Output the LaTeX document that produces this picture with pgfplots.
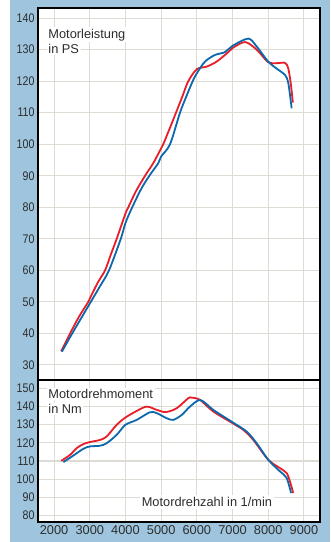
\documentclass[border=0pt]{standalone}
\usepackage{pgfplots}
\pgfplotsset{compat=1.18}
\usepackage{fontspec}
\setmainfont{Liberation Sans}
\newfontfamily\condfont{Liberation Sans}[FakeStretch=0.85]
\definecolor{bgblue}{RGB}{158,197,221}
\definecolor{gridgray}{RGB}{222,219,212}
\definecolor{cred}{RGB}{232,30,40}
\definecolor{cblue}{RGB}{12,104,172}
\definecolor{txt}{RGB}{45,45,45}

\pgfplotstableread{
x y
2200 34.3
2450 40
2700 45.3
2960 50
3000 51
3220 56
3430 60
3590 65
3755 70
4000 78
4080 80
4300 85.2
4550 90
4780 94
5000 98.7
5060 100
5240 105
5416 110
5600 115.3
5761 120
6000 123.8
6275 124.6
6555 126.2
6880 129.2
7000 130.5
7350 132.4
7675 130
8000 126
8235 125.7
8470 125.8
8560 124.1
8630 119.4
8690 113.2
}\powred

\pgfplotstableread{
x y
2220 34.2
2510 40
3030 50
3290 55
3540 60
3870 70
4000 75
4190 80
4450 86
4670 90
4920 94
5000 96.1
5250 100
5528 110
5700 115
5884 120
6000 122.5
6228 126.2
6508 128.3
6788 129.2
7000 131.2
7440 133.5
7675 131
8000 126.2
8281 123.6
8468 122
8562 119.4
8656 111.4
}\powblue

\pgfplotstableread{
x y
2200 110.1
2450 113.4
2635 117.1
2820 119.3
3000 120.4
3290 121.6
3475 123.5
3755 129.9
4000 133.9
4316 137.5
4596 139.9
4876 138.1
5130 136.9
5436 139
5760 144.5
5856 144.8
6088 143.6
6461 137.2
7000 130.8
7301 127.1
7581 121.6
8000 110.7
8328 106.1
8515 103.4
8608 98.8
8700 92.4
}\torred

\pgfplotstableread{
x y
2260 109.4
2541 113
2820 116.7
3000 118
3288 118.4
3475 119.8
3755 124.4
4000 129.9
4316 132.6
4688 136.8
4876 136.3
5156 133.5
5340 132.6
5576 135.3
5808 139.9
6100 143.5
6461 138.1
7000 131.3
7394 126.2
7675 119.8
8000 110.7
8328 104.3
8515 100.7
8640 92.4
}\torblue

\pgfplotsset{
  myaxis/.style={
    scale only axis,
    width=282pt,
    xmin=1550, xmax=9450,
    xtick={2000,3000,...,9000},
    grid=major,
    major grid style={gridgray, line width=1.1pt},
    major tick length=0pt,
    axis line style={black, line width=1.8pt},
    axis background/.style={fill=white},
    /pgf/number format/1000 sep={},
    /pgf/number format/assume math mode=true,
    scaled ticks=false,
    yticklabel style={font=\condfont\fontsize{12.5}{14}\selectfont, text=txt},
    xticklabel style={font=\fontsize{12.8}{14}\selectfont, text=txt},
  },
}
\tikzset{
  curve/.style={line width=1.8pt, smooth, tension=0.5},
  lab/.style={fill=white, inner sep=1.5pt, anchor=base west, text=txt,
    font=\fontsize{12.8}{15}\selectfont},
}

\begin{document}
\begin{tikzpicture}
\path[use as bounding box] (0pt,0pt) rectangle (331pt,542pt);
\fill[bgblue] (10pt,0pt) rectangle (330pt,542pt);

\begin{axis}[myaxis,
  at={(38pt,162pt)}, anchor=south west,
  height=372pt,
  ymin=25.2, ymax=143.2,
  ytick={30,40,...,140},
  xticklabels={},
]
\node[lab] at (rel axis cs:0.031,0.919) {Motorleistung};
\node[lab] at (rel axis cs:0.031,0.879) {in PS};
\addplot[curve, cred] table[x=x,y=y] {\powred};
\addplot[curve, cblue] table[x=x,y=y] {\powblue};
\end{axis}

\begin{axis}[myaxis,
  at={(38pt,20pt)}, anchor=south west,
  height=142pt,
  ymin=76.5, ymax=154.5,
  ytick={80,90,...,150},
]
\node[lab] at (rel axis cs:0.031,0.871) {Motordrehmoment};
\node[lab] at (rel axis cs:0.031,0.765) {in Nm};
\node[lab, anchor=base, inner sep=2pt] at (rel axis cs:0.599,0.109) {Motordrehzahl in 1/min};
\addplot[curve, cred] table[x=x,y=y] {\torred};
\addplot[curve, cblue] table[x=x,y=y] {\torblue};
\end{axis}
\end{tikzpicture}
\end{document}
